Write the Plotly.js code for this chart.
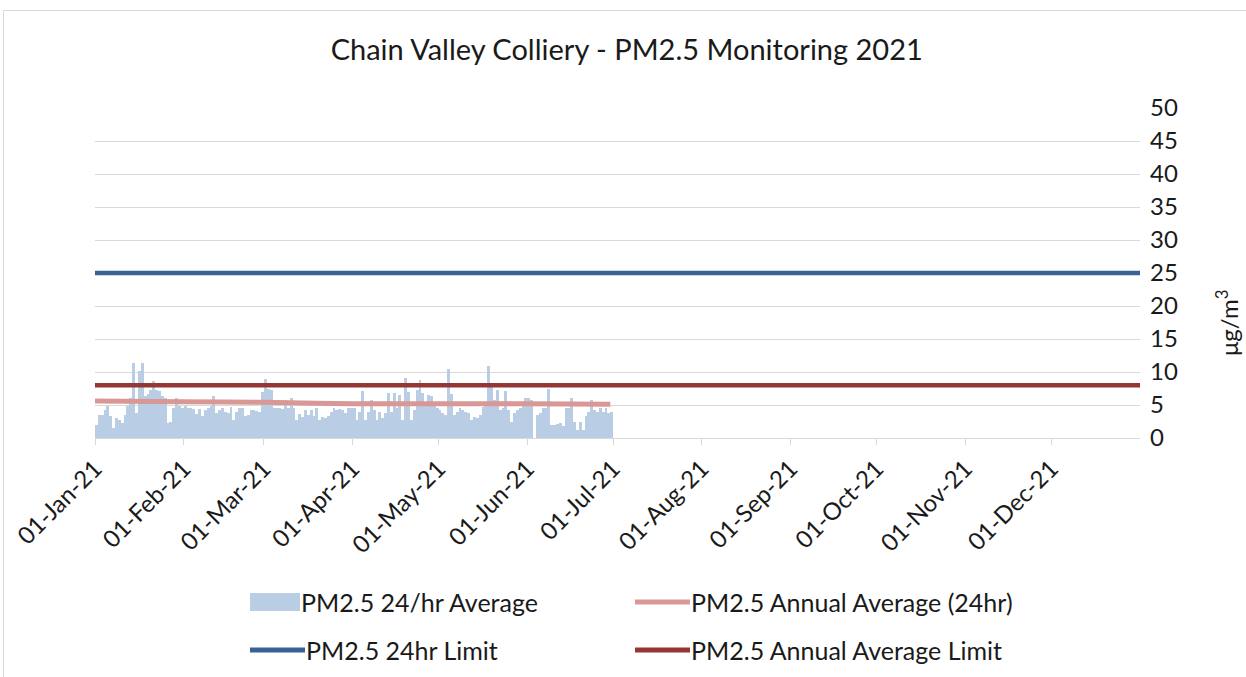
<!DOCTYPE html>
<html>
<head>
<meta charset="utf-8">
<script src="https://cdn.plot.ly/plotly-3.0.1.min.js"></script>
<style>
  html, body { margin: 0; padding: 0; background: #ffffff; overflow: hidden; }
  #chart { position: absolute; left: 0; top: 0; width: 1246px; height: 677px; }
  #frame { position: absolute; left: 3px; top: 10px; width: 1250px; height: 680px; border: 1px solid #d9d9d9; pointer-events: none; }
</style>
</head>
<body>
<div id="chart"></div>
<div id="frame"></div>
<script>
// ---- Data ----
const startDate = '2021-01-01';
const jan = [2.0,3.5,3.5,4.3,4.8,3.3,1.5,3.0,2.8,2.3,3.5,4.8,6.0,11.3,3.8,10.1,11.4,6.3,6.6,7.3,8.7,7.3,7.1,6.3,6.0,2.3,2.5,4.5,6.0,4.8,4.6];
const feb = [4.8,4.6,4.6,4.4,3.6,4.4,3.3,4.2,4.6,4.8,6.3,3.8,4.3,4.5,4.0,3.8,4.7,2.8,3.9,4.6,4.6,3.3,3.5,4.2,4.3,4.1,3.9,7.0];
const mar = [9.0,7.5,7.3,4.5,4.6,4.5,4.4,5.8,4.5,6.0,4.5,2.8,3.6,3.2,4.2,3.5,4.2,3.4,4.5,2.8,3.2,3.0,3.4,4.0,4.5,4.3,4.4,4.2,3.8,4.5,4.6];
const apr = [4.5,2.8,4.0,7.1,2.8,4.0,5.8,4.3,2.8,4.0,3.0,3.8,6.8,4.0,6.8,4.5,6.5,2.8,9.1,7.0,2.8,4.3,7.3,8.8,6.8,5.5,6.5,6.3,4.8,4.6];
const may = [4.2,3.8,3.5,10.4,6.6,3.5,4.0,4.6,4.3,4.0,3.8,2.8,3.2,3.0,3.5,4.7,5.0,10.9,8.3,5.8,7.3,4.3,4.5,7.1,4.3,2.5,3.8,4.3,4.6,4.8,6.0];
const jun = [6.0,5.8,null,3.5,3.8,4.5,4.5,7.5,2.0,2.0,2.1,2.2,1.8,4.5,4.5,6.0,2.5,1.2,2.5,1.2,3.3,4.0,5.8,4.3,4.0,4.5,4.0,4.5,3.8,4.0];

const annualAvgDates = ['2021-01-01','2021-02-01','2021-03-01','2021-04-01','2021-05-01','2021-06-01','2021-06-30'];
const annualAvgValues = [5.6, 5.5, 5.4, 5.2, 5.2, 5.2, 5.1];

const limitDates = ['2021-01-01', '2022-01-01'];
const limit24hr = [25, 25];
const limitAnnual = [8, 8];

const monthTicks = ['2021-01-01','2021-02-01','2021-03-01','2021-04-01','2021-05-01','2021-06-01',
                    '2021-07-01','2021-08-01','2021-09-01','2021-10-01','2021-11-01','2021-12-01'];

const dailyValues = [].concat(jan, feb, mar, apr, may, jun);
const dayMs = 86400000;
const t0 = Date.parse(startDate + 'T12:00:00Z');
const dailyDates = dailyValues.map((v, i) => new Date(t0 + i * dayMs).toISOString().slice(0, 19).replace('T', ' '));

// ---- Layout helpers ----
const W = 1246, H = 677;
const M = {l: 95, r: 106, t: 108, b: 239};
const PW = W - M.l - M.r, PH = H - M.t - M.b;
const px = x => (x - M.l) / PW;
const py = y => (M.t + PH - y) / PH;
const FONT = 'Lato, "Noto Sans", sans-serif';
const TXT = '#1a1a1a';

const cBar = '#b9cde5', cPink = '#d99795', cBlue = '#3a6196', cRed = '#963634';

const traces = [
  {type: 'bar', x: dailyDates, y: dailyValues, marker: {color: cBar, line: {width: 0}},
   width: dayMs, name: 'PM2.5 24/hr Average', hoverinfo: 'x+y'},
  {type: 'scatter', mode: 'lines', x: annualAvgDates, y: annualAvgValues,
   line: {color: cPink, width: 5, shape: 'spline'}, name: 'PM2.5 Annual Average (24hr)'},
  {type: 'scatter', mode: 'lines', x: limitDates, y: limit24hr,
   line: {color: cBlue, width: 4.5}, name: 'PM2.5 24hr Limit'},
  {type: 'scatter', mode: 'lines', x: limitDates, y: limitAnnual,
   line: {color: cRed, width: 4.5}, name: 'PM2.5 Annual Average Limit'}
];

// manual legend (matches reference swatch shapes and two-row layout)
const legendItems = [
  {kind: 'box', color: cBar, x: 250, y: 602, text: 'PM2.5 24/hr Average'},
  {kind: 'line', color: cPink, x: 635, y: 602, text: 'PM2.5 Annual Average (24hr)'},
  {kind: 'line', color: cBlue, x: 250, y: 650, text: 'PM2.5 24hr Limit'},
  {kind: 'line', color: cRed, x: 635, y: 650, text: 'PM2.5 Annual Average Limit'}
];
const shapes = [], annotations = [];
legendItems.forEach(it => {
  if (it.kind === 'box') {
    shapes.push({type: 'rect', xref: 'paper', yref: 'paper', x0: px(it.x), x1: px(it.x + 50),
      y0: py(it.y - 9), y1: py(it.y + 9), fillcolor: it.color, line: {width: 0}});
  } else {
    shapes.push({type: 'line', xref: 'paper', yref: 'paper', x0: px(it.x), x1: px(it.x + 55),
      y0: py(it.y), y1: py(it.y), line: {color: it.color, width: 5}});
  }
  annotations.push({xref: 'paper', yref: 'paper', x: px(it.x + (it.kind === 'box' ? 49 : 54)), y: py(it.y),
    xanchor: 'left', yanchor: 'middle', showarrow: false, text: it.text,
    font: {family: FONT, size: 25, color: TXT}});
});
annotations.push({xref: 'paper', yref: 'paper', x: px(1227), y: py(323), textangle: -90,
  xanchor: 'center', yanchor: 'middle', showarrow: false, text: 'μg/m<sup>3</sup>',
  font: {family: FONT, size: 24, color: TXT}});

const layout = {
  width: W, height: H,
  margin: M,
  paper_bgcolor: '#ffffff', plot_bgcolor: '#ffffff',
  showlegend: false,
  bargap: 0,
  title: {text: 'Chain Valley Colliery - PM2.5 Monitoring 2021', x: 0.503, xanchor: 'center',
          y: 1 - 50 / H, yanchor: 'middle', font: {family: FONT, size: 29, color: TXT}},
  xaxis: {type: 'date', range: ['2021-01-01', '2022-01-01'], tickvals: monthTicks,
          tickformat: '%d-%b-%y', tickangle: -45, ticks: 'outside', ticklen: 6, tickcolor: '#d9d9d9',
          showline: true, linecolor: '#d9d9d9', linewidth: 1, showgrid: false, zeroline: false,
          tickfont: {family: FONT, size: 24, color: TXT}, fixedrange: true},
  yaxis: {side: 'right', range: [0, 50], dtick: 5, tick0: 0, showgrid: true, gridcolor: '#d9d9d9',
          gridwidth: 1, zeroline: false, showline: false, ticks: '', ticklabelstandoff: 9,
          tickfont: {family: FONT, size: 24, color: TXT}, fixedrange: true},
  shapes: shapes,
  annotations: annotations
};

Plotly.newPlot('chart', traces, layout, {displayModeBar: false, staticPlot: true});
</script>
</body>
</html>
